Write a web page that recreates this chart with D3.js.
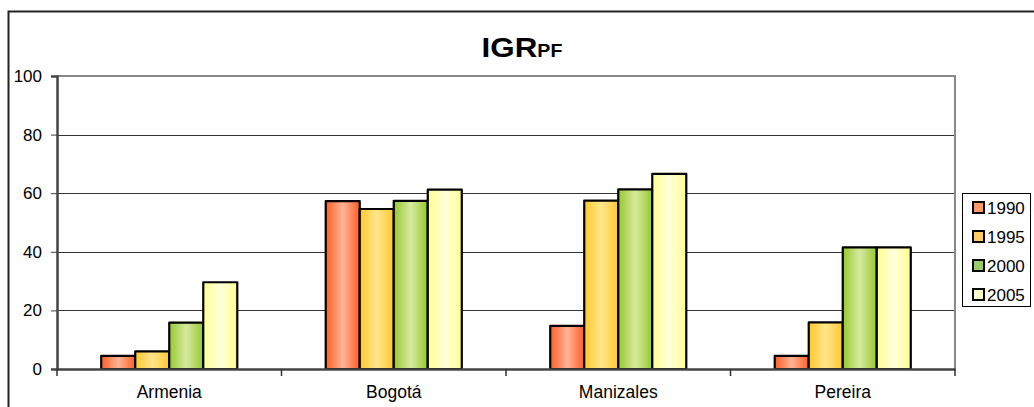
<!DOCTYPE html>
<html>
<head>
<meta charset="utf-8">
<script src="https://cdn.jsdelivr.net/npm/d3@7"></script>
<style>
  html, body { margin: 0; padding: 0; background: #fff; }
  svg { display: block; font-family: "Liberation Sans", Arial, sans-serif; }
</style>
</head>
<body>
<svg id="chart" width="1034" height="407"></svg>
<script>
// Chart data
const categories = ["Armenia", "Bogotá", "Manizales", "Pereira"];
const years = ["1990", "1995", "2000", "2005"];
const values1990 = [4.5, 57.3, 14.7, 4.5];
const values1995 = [6, 54.6, 57.5, 15.9];
const values2000 = [15.8, 57.4, 61.3, 41.5];
const values2005 = [29.6, 61.2, 66.6, 41.5];
const yTicks = [0, 20, 40, 60, 80, 100];

const seriesValues = [values1990, values1995, values2000, values2005];

// Colours: bar gradient edge / centre, legend swatch
const edgeColors = ["#ff5f26", "#ffc82e", "#96c82d", "#ffff90"];
const centerColors = ["#ffb496", "#ffe68c", "#d6eaa0", "#ffffdd"];
const swatchColors = ["#ff9966", "#ffcc66", "#99cc66", "#ffffcc"];

const svg = d3.select("#chart");

const plot = { left: 57, right: 955, top: 76, bottom: 369 };

const x = d3.scaleBand().domain(categories).range([plot.left, plot.right]).padding(0);
const xs = d3.scaleBand().domain(years).range([0, x.bandwidth()])
  .paddingInner(0).paddingOuter(1.3);
const y = d3.scaleLinear().domain([0, 100]).range([plot.bottom, plot.top]);

// Gradients for the bars
const defs = svg.append("defs");
years.forEach((yr, i) => {
  const g = defs.append("linearGradient").attr("id", "grad" + yr)
    .attr("x1", "0").attr("x2", "1").attr("y1", "0").attr("y2", "0");
  g.append("stop").attr("offset", "0").attr("stop-color", edgeColors[i]);
  g.append("stop").attr("offset", "0.5").attr("stop-color", centerColors[i]);
  g.append("stop").attr("offset", "1").attr("stop-color", edgeColors[i]);
});

// Outer chart frame
svg.append("rect")
  .attr("x", 8.5).attr("y", 11.5).attr("width", 1100).attr("height", 500)
  .attr("fill", "none").attr("stroke", "#222").attr("stroke-width", 2);

// Title (slightly widened bold face)
const title = svg.append("text")
  .attr("transform", "translate(522,57) scale(1.12,1)")
  .attr("text-anchor", "middle")
  .attr("font-weight", "bold")
  .attr("fill", "#000");
title.append("tspan").attr("font-size", 28).text("IGR");
title.append("tspan").attr("font-size", 17.5).text("PF");

// Gridlines
svg.append("g")
  .selectAll("line")
  .data(yTicks.filter(d => d > 0 && d < 100))
  .join("line")
  .attr("x1", plot.left).attr("x2", plot.right)
  .attr("y1", d => Math.round(y(d)) + 0.5).attr("y2", d => Math.round(y(d)) + 0.5)
  .attr("stroke", "#333").attr("stroke-width", 1);

// Plot area border (top and right)
svg.append("path")
  .attr("d", `M${plot.left},${plot.top} H${plot.right} V${plot.bottom}`)
  .attr("fill", "none").attr("stroke", "#888").attr("stroke-width", 2);

// Bars
const groups = svg.append("g").selectAll("g")
  .data(categories)
  .join("g")
  .attr("transform", d => `translate(${x(d)},0)`);

groups.selectAll("rect")
  .data((c, ci) => years.map((yr, si) => ({ yr, v: seriesValues[si][ci] })))
  .join("rect")
  .attr("x", d => xs(d.yr))
  .attr("width", xs.bandwidth())
  .attr("y", d => y(d.v))
  .attr("height", d => y(0) - y(d.v))
  .attr("fill", d => `url(#grad${d.yr})`)
  .attr("stroke", "#000").attr("stroke-width", 2.2)
  .attr("stroke-linejoin", "round");

// Y axis
const yAxis = svg.append("g")
  .attr("transform", `translate(${plot.left},0)`)
  .call(d3.axisLeft(y).tickValues(yTicks).tickSize(6).tickPadding(9));
yAxis.select(".domain").attr("stroke", "#444").attr("stroke-width", 2.5);
yAxis.selectAll(".tick line").attr("stroke", "#444");
yAxis.selectAll(".tick text")
  .attr("font-size", 17).attr("fill", "#000")
  .attr("font-family", "Liberation Sans, Arial, sans-serif");

// X axis
const xAxis = svg.append("g")
  .attr("transform", `translate(0,${plot.bottom})`)
  .call(d3.axisBottom(x).tickSize(0).tickPadding(17));
xAxis.select(".domain").attr("stroke", "#444").attr("stroke-width", 2.5);
xAxis.selectAll(".tick text")
  .attr("font-size", 17.5).attr("fill", "#000")
  .attr("font-family", "Liberation Sans, Arial, sans-serif");

// Category boundary ticks
svg.append("g").selectAll("line")
  .data(categories.map(c => x(c)).concat([plot.right]))
  .join("line")
  .attr("x1", d => d).attr("x2", d => d)
  .attr("y1", plot.bottom).attr("y2", plot.bottom + 7)
  .attr("stroke", "#333").attr("stroke-width", 1.5);

// Legend
const legend = svg.append("g");
legend.append("rect")
  .attr("x", 962.5).attr("y", 193.5).attr("width", 68).attr("height", 113)
  .attr("fill", "#fff").attr("stroke", "#000").attr("stroke-width", 1);

const items = legend.selectAll("g.item")
  .data(years)
  .join("g").attr("class", "item")
  .attr("transform", (d, i) => `translate(973,${207.5 + i * 29})`);
items.append("rect")
  .attr("x", 0).attr("y", -5.5).attr("width", 11).attr("height", 11)
  .attr("fill", (d, i) => swatchColors[i])
  .attr("stroke", "#000").attr("stroke-width", 2);
items.append("text")
  .attr("x", 14).attr("y", 6.5)
  .attr("font-size", 17).attr("fill", "#000")
  .text(d => d);
</script>
</body>
</html>
